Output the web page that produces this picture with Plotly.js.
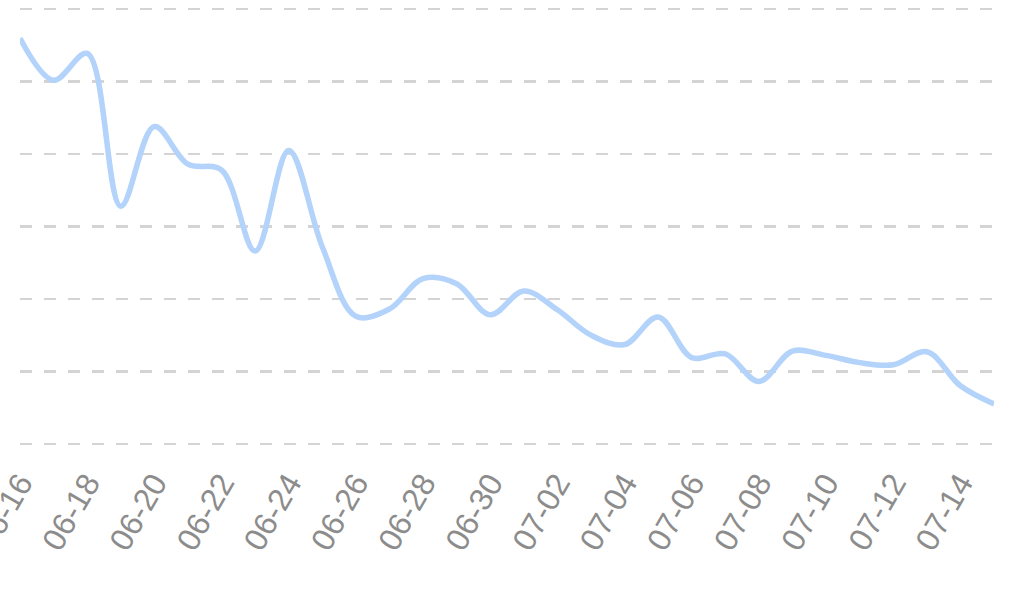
<!DOCTYPE html>
<html>
<head>
<meta charset="utf-8">
<script src="https://cdn.plot.ly/plotly-3.0.1.min.js"></script>
<style>html,body{margin:0;padding:0;background:#fff;}#chart{width:1025px;height:604px;}</style>
</head>
<body>
<div id="chart"></div>
<script>
const dates = ["06-16","06-17","06-18","06-19","06-20","06-21","06-22","06-23","06-24","06-25",
               "06-26","06-27","06-28","06-29","06-30","07-01","07-02","07-03","07-04","07-05",
               "07-06","07-07","07-08","07-09","07-10","07-11","07-12","07-13","07-14","07-15"];
const values = [5.60, 5.02, 5.39, 3.28, 4.38, 3.86, 3.78, 2.66, 4.05, 2.72,
                1.76, 1.86, 2.28, 2.21, 1.78, 2.11, 1.85, 1.50, 1.37, 1.75,
                1.19, 1.24, 0.86, 1.28, 1.22, 1.12, 1.09, 1.27, 0.80, 0.55];
const tickLabels = dates.filter((d, i) => i % 2 === 0);

const trace = {
  x: dates, y: values, type: 'scatter', mode: 'lines',
  line: {shape: 'spline', smoothing: 1, color: '#b3d3fb', width: 5.5},
  hoverinfo: 'none'
};
const layout = {
  width: 1025, height: 604,
  margin: {l: 20, r: 31, t: 2, b: 153},
  paper_bgcolor: '#ffffff', plot_bgcolor: '#ffffff',
  showlegend: false,
  xaxis: {
    type: 'category', range: [0, 29],
    tickmode: 'array', tickvals: tickLabels, ticktext: tickLabels,
    tickangle: -60, showgrid: false, zeroline: false, showline: false,
    ticks: '', ticklen: 0, ticklabelstandoff: 6,
    tickfont: {family: 'Liberation Sans, Arial, sans-serif', size: 32, color: '#8c8c8c'}
  },
  yaxis: {
    range: [-0.1, 6.1], dtick: 1, tick0: 0, showticklabels: false,
    showgrid: true, gridcolor: '#d4d4d4', gridwidth: 2.5, griddash: '12px,12px',
    zeroline: false, showline: false, ticks: ''
  }
};
Plotly.newPlot('chart', [trace], layout, {displayModeBar: false, staticPlot: true});
</script>
</body>
</html>
